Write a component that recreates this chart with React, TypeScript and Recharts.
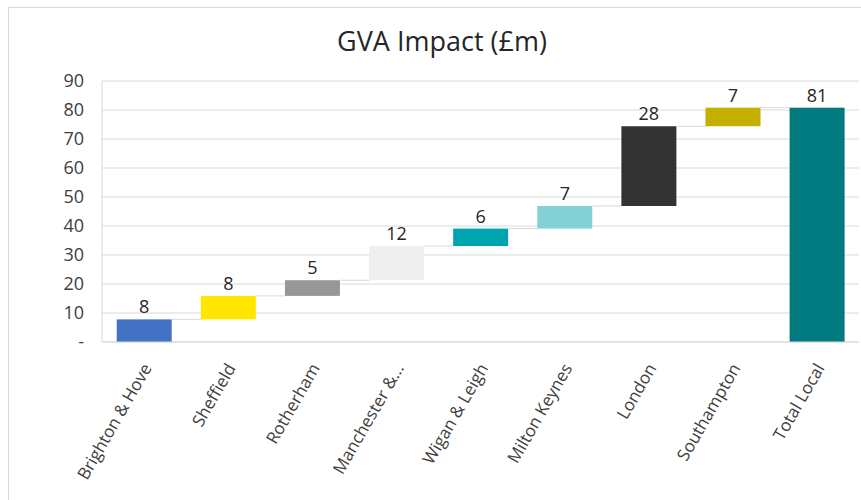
import { Bar, BarChart, CartesianGrid, LabelList, XAxis, YAxis } from "recharts";

const categories = [
  "Brighton & Hove",
  "Sheffield",
  "Rotherham",
  "Manchester &...",
  "Wigan & Leigh",
  "Milton Keynes",
  "London",
  "Southampton",
  "Total Local",
];
// step sizes (£m), last one is the total
const steps = [7.8, 8.1, 5.4, 11.8, 6.0, 7.8, 27.5, 6.4];
const totalValue = 80.8;
const valueLabels = ["8", "8", "5", "12", "6", "7", "28", "7", "81"];
const barColors = [
  "#4472C4",
  "#FFE600",
  "#979797",
  "#EFEFEF",
  "#00A4AE",
  "#82D1D6",
  "#333333",
  "#C3AF00",
  "#00797F",
];
const yTicks = [0, 10, 20, 30, 40, 50, 60, 70, 80, 90];
const yTickLabels = ["-", "10", "20", "30", "40", "50", "60", "70", "80", "90"];

const rows = categories.map((name, i) => {
  const isTotal = i === categories.length - 1;
  const base = isTotal ? 0 : steps.slice(0, i).reduce((a, b) => a + b, 0);
  return {
    name,
    base,
    value: isTotal ? totalValue : steps[i],
    label: valueLabels[i],
  };
});

const GAP = 0.175; // barCategoryGap per side

function StepBar(props: any) {
  const { x, y, width, height, index } = props;
  const gap = (width * 2 * GAP) / (1 - 2 * GAP);
  return (
    <g>
      <rect x={x} y={y} width={width} height={height} fill={barColors[index]} />
      {index < categories.length - 1 && (
        <line x1={x + width} x2={x + width + gap} y1={y} y2={y} stroke="#D9D9D9" strokeWidth={1} />
      )}
    </g>
  );
}

function XTick(props: any) {
  const { x, y, payload } = props;
  return (
    <g transform={`translate(${x + 3},${y + 15})`}>
      <text
        transform="rotate(-60)"
        textAnchor="end"
        dy="0.35em"
        fill="#404040"
        fontSize={17}
        fontFamily="Open Sans"
      >
        {payload.value}
      </text>
    </g>
  );
}

export default function App() {
  return (
    <div style={{ position: "absolute", left: 0, top: 0, width: 861, height: 500, background: "#fff" }}>
      <div
        style={{
          position: "absolute",
          left: 8,
          top: 7,
          width: 870,
          height: 510,
          border: "1px solid #D9D9D9",
        }}
      />
      <div
        style={{
          position: "absolute",
          left: 0,
          top: 24,
          width: 884,
          textAlign: "center",
          fontFamily: "Open Sans",
          fontSize: 27,
          color: "#262626",
          lineHeight: "34px",
        }}
      >
        GVA Impact (£m)
      </div>
      <div style={{ position: "absolute", left: 0, top: 0 }}>
        <BarChart
          width={861}
          height={500}
          data={rows}
          margin={{ top: 81, right: 2, bottom: 0, left: 0 }}
          barCategoryGap="17.5%"
        >
          <CartesianGrid vertical={false} stroke="#D9D9D9" />
          <XAxis
            dataKey="name"
            interval={0}
            height={158}
            tickLine={false}
            axisLine={{ stroke: "#D9D9D9" }}
            tick={<XTick />}
          />
          <YAxis
            width={102}
            domain={[0, 90]}
            ticks={yTicks}
            tickFormatter={(v: number) => yTickLabels[yTicks.indexOf(v)]}
            tickLine={false}
            axisLine={{ stroke: "#D9D9D9" }}
            tick={{ fill: "#404040", fontSize: 18, fontFamily: "Open Sans" }}
            tickMargin={12}
          />
          <Bar dataKey="base" stackId="w" fill="transparent" isAnimationActive={false} />
          <Bar dataKey="value" stackId="w" shape={<StepBar />} isAnimationActive={false}>
            <LabelList
              dataKey="label"
              position="top"
              offset={6}
              fill="#262626"
              fontSize={18}
              fontFamily="Open Sans"
            />
          </Bar>
        </BarChart>
      </div>
    </div>
  );
}
